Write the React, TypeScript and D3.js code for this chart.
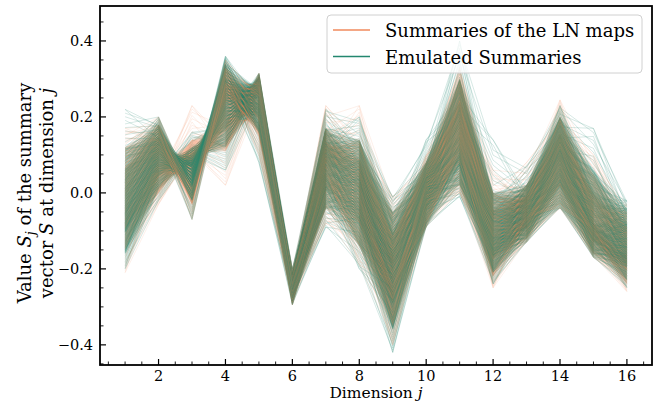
import React, { useMemo } from "react";
import * as d3 from "d3";

// Summary-vector dimensions
const dims = [1, 2, 3, 4, 5, 6, 7, 8, 9, 10, 11, 12, 13, 14, 15, 16];

// Per-dimension spread of the LN-map summaries: extreme low, 2.5%, median, 97.5%, extreme high
const lnMin = [-0.21, -0.03, -0.07, 0.02, 0.1, -0.295, -0.08, -0.19, -0.4, -0.09, 0.0, -0.25, -0.13, -0.04, -0.17, -0.26];
const lnLow = [-0.15, 0.0, -0.03, 0.11, 0.15, -0.285, -0.04, -0.14, -0.35, -0.08, 0.02, -0.22, -0.12, -0.03, -0.16, -0.24];
const lnMid = [-0.01, 0.1, 0.06, 0.24, 0.26, -0.25, 0.08, 0.01, -0.19, 0.01, 0.16, -0.11, -0.05, 0.09, -0.08, -0.15];
const lnHigh = [0.12, 0.18, 0.14, 0.33, 0.305, -0.215, 0.17, 0.14, -0.05, 0.08, 0.3, 0.0, 0.02, 0.2, 0.05, -0.05];
const lnMax = [0.17, 0.2, 0.23, 0.35, 0.315, -0.2, 0.23, 0.23, -0.01, 0.1, 0.33, 0.06, 0.08, 0.245, 0.1, -0.03];

// Same statistics for the emulated summaries
const emMin = [-0.2, -0.02, -0.07, 0.06, 0.08, -0.295, -0.09, -0.2, -0.42, -0.09, -0.01, -0.24, -0.13, -0.04, -0.17, -0.25];
const emLow = [-0.16, 0.01, -0.02, 0.12, 0.16, -0.285, -0.04, -0.14, -0.36, -0.08, 0.02, -0.21, -0.12, -0.03, -0.16, -0.23];
const emMid = [-0.02, 0.1, 0.07, 0.24, 0.26, -0.25, 0.08, 0.01, -0.19, 0.01, 0.15, -0.11, -0.05, 0.09, -0.08, -0.14];
const emHigh = [0.12, 0.18, 0.12, 0.34, 0.305, -0.215, 0.17, 0.14, -0.05, 0.08, 0.3, 0.0, 0.02, 0.2, 0.06, -0.04];
const emMax = [0.22, 0.2, 0.16, 0.36, 0.315, -0.2, 0.22, 0.2, -0.01, 0.14, 0.4, 0.14, 0.07, 0.23, 0.17, -0.02];

// How each dimension's ordering relates to its neighbours
const orderFlip = [0, 0, 1, 0, 1, 1, 1, 1, 1, 1, 1, 1, 1, 1, 1, 1];
const mixWeight = [0.35, 0.3, 0.25, 0.3, 0.55, 0.55, 0.45, 0.4, 0.4, 0.5, 0.4, 0.45, 0.45, 0.4, 0.45, 0.4];

const xTicks = [2, 4, 6, 8, 10, 12, 14, 16];
const yTicks = [-0.4, -0.2, 0.0, 0.2, 0.4];

const seriesNames = ["Summaries of the LN maps", "Emulated Summaries"];
const ORANGE = "#f08a5d";
const TEAL = "#23876f";

const W = 664;
const H = 408;
const left = 100;
const right = 652;
const top = 6;
const bottom = 365;

const N = 480;
const fmt = (v: number) => (v < 0 ? "\u2212" : "") + Math.abs(v).toFixed(1);

function buildLines(mins: number[], lows: number[], mids: number[], highs: number[], maxs: number[], strideB: number, strideC: number) {
  const idx = d3.range(N);
  const a = idx.map((k) => (k + 0.5) / N);
  const b = idx.map((k) => (((k * strideB) % N) + 0.5) / N);
  const c = idx.map((k) => (((k * strideC) % N) + 0.5) / N);
  const ranks: number[][] = dims.map((_, j) => {
    const other = j % 2 === 0 ? b : c;
    const w = mixWeight[j];
    const score = idx.map((k) => (1 - w) * (orderFlip[j] ? 1 - a[k] : a[k]) + w * other[k]);
    const order = idx.slice().sort((p, q) => score[p] - score[q]);
    const r = new Array(N);
    order.forEach((k, pos) => (r[k] = (pos + 0.5) / N));
    return r;
  });
  const quant = dims.map((_, j) =>
    d3
      .scaleLinear()
      .domain([0.003, 0.025, 0.16, 0.5, 0.84, 0.975, 0.997])
      .range([
        mins[j],
        lows[j],
        mids[j] + 0.6 * (lows[j] - mids[j]),
        mids[j],
        mids[j] + 0.6 * (highs[j] - mids[j]),
        highs[j],
        maxs[j],
      ])
      .clamp(true)
  );
  return idx.map((k) => dims.map((d, j) => [d, quant[j](ranks[j][k])] as [number, number]));
}

export default function App() {
  const x = d3.scaleLinear().domain([0.25, 16.75]).range([left, right]);
  const y = d3.scaleLinear().domain([-0.453, 0.492]).range([bottom, top]);
  const line = d3
    .line<[number, number]>()
    .x((d) => x(d[0]))
    .y((d) => y(d[1]));

  const lnLines = useMemo(() => buildLines(lnMin, lnLow, lnMid, lnHigh, lnMax, 113, 197), []);
  const emLines = useMemo(() => buildLines(emMin, emLow, emMid, emHigh, emMax, 151, 71), []);

  const xMinor = d3.range(0.5, 16.75, 0.5).filter((v) => v % 2 !== 0);
  const yMinor = d3.range(-0.45, 0.49, 0.05).filter((v) => Math.abs(Math.round(v * 20) % 4) !== 0);

  const serif = "'DejaVu Serif', serif";

  return (
    <svg width={W} height={H} style={{ position: "absolute", left: 0, top: 0, background: "#fff", fontFamily: serif }}>
      <defs>
        <clipPath id="plotArea">
          <rect x={left} y={top} width={right - left} height={bottom - top} />
        </clipPath>
      </defs>
      <g clipPath="url(#plotArea)" fill="none">
        {lnLines.map((l, i) => (
          <React.Fragment key={"pair" + i}>
            <path d={line(l) || ""} stroke={ORANGE} strokeOpacity={0.13} strokeWidth={1} />
            <path d={line(emLines[i]) || ""} stroke={TEAL} strokeOpacity={0.18} strokeWidth={1} />
          </React.Fragment>
        ))}
      </g>

      {/* ticks, drawn inward */}
      <g stroke="#000">
        {xTicks.map((t) => (
          <line key={"xt" + t} x1={x(t)} x2={x(t)} y1={bottom} y2={bottom - 6} strokeWidth={1.2} />
        ))}
        {xMinor.map((t) => (
          <line key={"xm" + t} x1={x(t)} x2={x(t)} y1={bottom} y2={bottom - 3.5} strokeWidth={0.9} />
        ))}
        {yTicks.map((t) => (
          <line key={"yt" + t} x1={left} x2={left + 6} y1={y(t)} y2={y(t)} strokeWidth={1.2} />
        ))}
        {yMinor.map((t) => (
          <line key={"ym" + t} x1={left} x2={left + 3.5} y1={y(t)} y2={y(t)} strokeWidth={0.9} />
        ))}
      </g>
      <rect x={left} y={top} width={right - left} height={bottom - top} fill="none" stroke="#000" strokeWidth={1.8} />

      <g fontSize={14.5} fill="#000" style={{ fontFamily: serif }}>
        {xTicks.map((t) => (
          <text key={"xl" + t} x={x(t)} y={381} textAnchor="middle">
            {t}
          </text>
        ))}
        {yTicks.map((t) => (
          <text key={"yl" + t} x={93} y={y(t) + 5} textAnchor="end">
            {fmt(t)}
          </text>
        ))}
      </g>

      <text x={376} y={398} textAnchor="middle" fontSize={15.5} style={{ fontFamily: serif }}>
        Dimension <tspan fontStyle="italic">j</tspan>
      </text>

      <g fontSize={18} textAnchor="middle" style={{ fontFamily: serif }}>
        <text transform="translate(31,193) rotate(-90)">
          Value <tspan fontStyle="italic">S</tspan>
          <tspan fontStyle="italic" fontSize={12.5} dy={4}>j</tspan>
          <tspan dy={-4}> of the summary</tspan>
        </text>
        <text transform="translate(53,193) rotate(-90)">
          vector <tspan fontStyle="italic">S</tspan> at dimension <tspan fontStyle="italic">j</tspan>
        </text>
      </g>

      <g style={{ fontFamily: serif }}>
        <rect x={327} y={15} width={315} height={58} rx={4} fill="#fff" fillOpacity={0.8} stroke="#d0d0d0" strokeWidth={1} />
        <line x1={333} x2={370} y1={30} y2={30} stroke={ORANGE} strokeWidth={1.5} />
        <line x1={333} x2={370} y1={56.5} y2={56.5} stroke={TEAL} strokeWidth={1.5} />
        <text x={385} y={37} fontSize={18}>
          {seriesNames[0]}
        </text>
        <text x={385} y={63.5} fontSize={18}>
          {seriesNames[1]}
        </text>
      </g>
    </svg>
  );
}
